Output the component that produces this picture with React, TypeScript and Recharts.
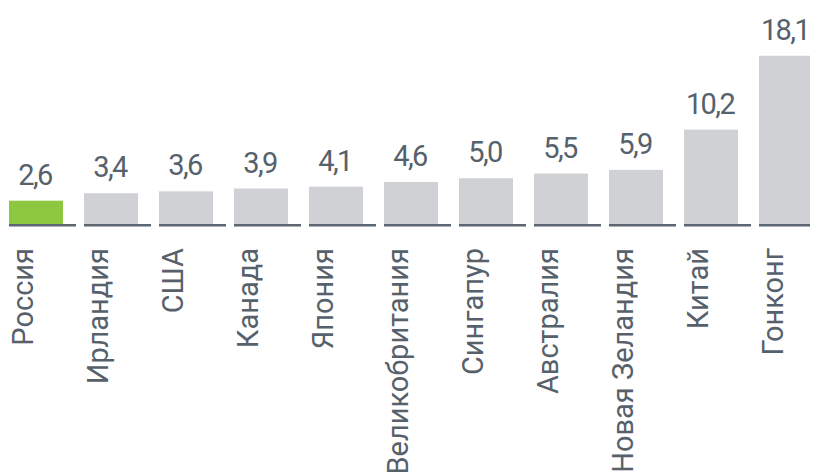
import React from "react";
import { BarChart, Bar, XAxis, YAxis, LabelList, Cell } from "recharts";

const countries = ["Россия", "Ирландия", "США", "Канада", "Япония", "Великобритания", "Сингапур", "Австралия", "Новая Зеландия", "Китай", "Гонконг"];
const values = [2.6, 3.4, 3.6, 3.9, 4.1, 4.6, 5.0, 5.5, 5.9, 10.2, 18.1];
const highlight = ["Россия"];

const data = countries.map((name, i) => ({ name, value: values[i] }));

const TEXT = "#56616b";
const FONT = "Roboto, 'Noto Sans', sans-serif";

const BarShape = (props: any) => {
  const { x, y, width, height, fill } = props;
  const bw = (width * 54) / 67;
  return (
    <g>
      <rect x={x} y={y} width={bw} height={height} fill={fill} />
      <rect x={x} y={y + height - 1} width={width} height={2.5} fill="#5b6670" />
    </g>
  );
};

const Tick = (props: any) => {
  const { x, y, payload } = props;
  return (
    <text
      transform={`translate(${x - 10}, ${y + 23}) rotate(-90)`}
      textAnchor="end"
      fill={TEXT}
      fontSize={29}
      fontFamily={FONT}
    >
      {payload.value}
    </text>
  );
};

const ValueLabel = (props: any) => {
  const { x, y, width, value } = props;
  const bw = (width * 54) / 67;
  return (
    <text
      x={x + bw / 2 - 1}
      y={y - 16}
      textAnchor="middle"
      fill={TEXT}
      fontSize={29}
      letterSpacing={-1.6}
      fontFamily={FONT}
    >
      {String(value.toFixed(1)).replace(".", ",")}
    </text>
  );
};

export default function App() {
  return (
    <div style={{ width: 818, height: 466, overflow: "hidden", marginLeft: -8 }}>
      <BarChart
        width={825}
        height={466}
        data={data}
        margin={{ top: 30, right: 0, left: 0, bottom: 9 }}
        barCategoryGap={4}
        style={{ marginLeft: 5 }}
      >
        <XAxis dataKey="name" axisLine={false} tickLine={false} tickSize={0} tickMargin={0} height={240} interval={0} tick={<Tick />} />
        <YAxis hide domain={[0, 20]} />
        <Bar dataKey="value" isAnimationActive={false} shape={<BarShape />}>
          {data.map((d) => (
            <Cell key={d.name} fill={highlight.includes(d.name) ? "#8dc63f" : "#d0d1d5"} />
          ))}
          <LabelList dataKey="value" content={<ValueLabel />} />
        </Bar>
      </BarChart>
    </div>
  );
}
